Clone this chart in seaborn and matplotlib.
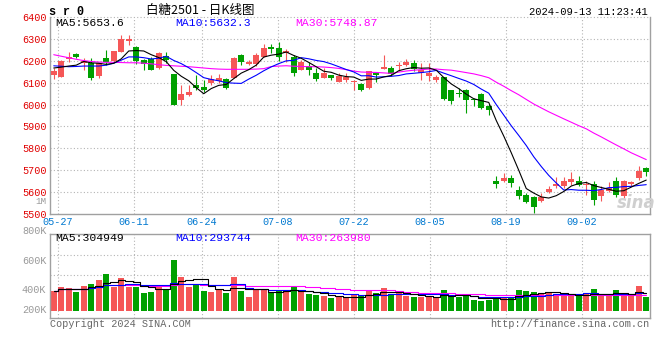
import numpy as np
import pandas as pd
import seaborn as sns
import matplotlib.pyplot as plt
from matplotlib.transforms import blended_transform_factory

# -------------------------------
# Data
# -------------------------------

dates = ["05-24", "05-27", "05-28", "05-29", "05-30", "05-31",
         "06-03", "06-04", "06-05", "06-06", "06-07",
         "06-11", "06-12", "06-13", "06-14",
         "06-17", "06-18", "06-19", "06-20", "06-21",
         "06-24", "06-25", "06-26", "06-27", "06-28",
         "07-01", "07-02", "07-03", "07-04", "07-05",
         "07-08", "07-09", "07-10", "07-11", "07-12",
         "07-15", "07-16", "07-17", "07-18", "07-19",
         "07-22", "07-23", "07-24", "07-25", "07-26",
         "07-29", "07-30", "07-31", "08-01", "08-02",
         "08-05", "08-06", "08-07", "08-08", "08-09",
         "08-12", "08-13", "08-14", "08-15", "08-16",
         "08-19", "08-20", "08-21", "08-22", "08-23",
         "08-26", "08-27", "08-28", "08-29", "08-30",
         "09-02", "09-03", "09-04", "09-05", "09-06",
         "09-09", "09-10", "09-11", "09-12", "09-13"]

opens = [6136, 6129, 6208, 6230, 6190, 6192, 6130, 6215, 6200, 6243,
         6291, 6265, 6205, 6210, 6167, 6225, 6139, 6023, 6045, 6090,
         6083, 6100, 6110, 6118, 6124, 6227, 6186, 6185, 6218, 6262,
         6261, 6236, 6217, 6160, 6177, 6144, 6124, 6136, 6106, 6111,
         6105, 6094, 6077, 6145, 6165, 6167, 6176, 6182, 6192, 6146,
         6131, 6115, 6125, 6066, 6052, 6069, 6024, 6048, 5994, 5651,
         5652, 5663, 5609, 5586, 5578, 5560, 5599, 5625, 5629, 5644,
         5652, 5630, 5637, 5583, 5606, 5650, 5580, 5637, 5663, 5710]

highs = [6167, 6205, 6242, 6236, 6215, 6215, 6192, 6250, 6247, 6318,
         6318, 6268, 6208, 6220, 6240, 6242, 6140, 6091, 6088, 6136,
         6114, 6135, 6140, 6120, 6220, 6232, 6203, 6235, 6277, 6280,
         6285, 6255, 6227, 6204, 6197, 6167, 6166, 6137, 6145, 6144,
         6115, 6100, 6153, 6150, 6227, 6175, 6197, 6208, 6205, 6190,
         6190, 6135, 6126, 6068, 6078, 6074, 6032, 6054, 6005, 5674,
         5686, 5676, 5625, 5597, 5582, 5594, 5625, 5666, 5668, 5692,
         5674, 5648, 5652, 5625, 5645, 5666, 5656, 5652, 5720, 5712]

lows = [6118, 6125, 6194, 6215, 6160, 6113, 6121, 6182, 6197, 6240,
        6273, 6185, 6160, 6158, 6165, 6190, 5998, 6000, 6040, 6068,
        6060, 6092, 6100, 6074, 6120, 6180, 6180, 6176, 6217, 6235,
        6200, 6197, 6130, 6158, 6136, 6108, 6120, 6114, 6103, 6106,
        6068, 6061, 6073, 6103, 6163, 6130, 6156, 6177, 6155, 6112,
        6108, 6105, 6020, 6005, 6035, 5962, 5992, 5982, 5951, 5617,
        5645, 5621, 5566, 5548, 5502, 5555, 5594, 5617, 5617, 5632,
        5628, 5586, 5540, 5560, 5600, 5575, 5572, 5625, 5655, 5672]

closes = [6152, 6200, 6220, 6220, 6198, 6120, 6190, 6195, 6245, 6300,
          6300, 6200, 6185, 6160, 6235, 6206, 6000, 6050, 6056, 6077,
          6068, 6118, 6123, 6076, 6212, 6194, 6197, 6227, 6261, 6255,
          6218, 6246, 6147, 6197, 6160, 6118, 6144, 6122, 6133, 6126,
          6107, 6068, 6152, 6134, 6174, 6140, 6178, 6197, 6162, 6158,
          6146, 6128, 6028, 6015, 6050, 6020, 6022, 5985, 5974, 5636,
          5663, 5640, 5583, 5555, 5532, 5575, 5614, 5637, 5651, 5657,
          5633, 5638, 5565, 5608, 5616, 5588, 5650, 5647, 5694, 5692]

volumes = [330000, 403000, 375000, 319000, 420000, 454000, 521000, 622000, 403000, 554000,
           398000, 392000, 302000, 319000, 403000, 370000, 857000, 571000, 403000, 454000,
           336000, 319000, 347000, 302000, 571000, 336000, 230000, 347000, 347000, 291000,
           336000, 347000, 403000, 319000, 280000, 263000, 252000, 218000, 235000, 224000,
           258000, 246000, 347000, 297000, 381000, 280000, 302000, 246000, 235000, 224000,
           246000, 230000, 347000, 224000, 235000, 280000, 179000, 168000, 179000, 224000,
           224000, 224000, 347000, 330000, 319000, 297000, 319000, 280000, 246000, 246000,
           246000, 280000, 364000, 280000, 246000, 347000, 246000, 280000, 414000, 224000]

# MA values on the left edge, where the window reaches back before the first candle
ma5_head = [6168, 6172, 6177, 6181]
ma10_head = [6178, 6176, 6174, 6175, 6177, 6177, 6177, 6181, 6190]
ma30_head = [6229, 6222, 6215, 6208, 6202, 6198, 6195, 6194, 6194, 6193,
             6192, 6192, 6190, 6187, 6183, 6180, 6178, 6176, 6174, 6171,
             6168, 6165, 6163, 6162, 6162, 6162, 6162, 6163, 6165]

tick_dates = ["05-27", "06-11", "06-24", "07-08", "07-22", "08-05", "08-19", "09-02"]
price_ticks = [5500, 5600, 5700, 5800, 5900, 6000, 6100, 6200, 6300, 6400]
vol_labels = ["800K", "600K", "400K", "200K"]

# -------------------------------
# Prepare frame
# -------------------------------

df = pd.DataFrame({"date": dates, "open": opens, "high": highs, "low": lows,
                   "close": closes, "volume": volumes})
df["x"] = np.arange(len(df))
df["up"] = df["close"] >= df["open"]


def moving(values, n, head):
    ma = values.rolling(n).mean()
    ma.iloc[:n - 1] = head
    return ma


df["ma5"] = moving(df["close"], 5, ma5_head)
df["ma10"] = moving(df["close"], 10, ma10_head)
df["ma30"] = moving(df["close"], 30, ma30_head)
df["vma5"] = df["volume"].rolling(5, min_periods=1).mean()
df["vma10"] = df["volume"].rolling(10, min_periods=1).mean()
df["vma30"] = df["volume"].rolling(30, min_periods=1).mean()

RED = "#f55757"
GREEN = "#00a000"
GRID = "#b4b4b4"
FRAME = "#a0a0a0"
colors = np.where(df["up"], RED, GREEN)

# grid lines on sina sit on a slightly wider spacing than the candles
n = len(df)
tick_idx = [dates.index(d) for d in tick_dates]
grid_x = [i * n / (n - 1) - 0.5 for i in tick_idx]

# -------------------------------
# Plot
# -------------------------------

sns.set_theme(style="white")
plt.rcParams["font.family"] = ["Liberation Mono", "DejaVu Sans Mono"]

W, H = 660, 360


def px(x, y):
    return x / W, 1 - y / H


fig = plt.figure(figsize=(6.6, 3.6), dpi=100)
ax = fig.add_axes([50 / W, 1 - 213.7 / H, 600 / W, (213.7 - 17.4) / H])
axv = fig.add_axes([50 / W, 1 - 318 / H, 600 / W, (318 - 234.3) / H])

dots = (0, (1, 2))

# price pane
for y in price_ticks[1:]:
    ax.axhline(y, color=GRID, lw=0.8, ls=dots, zorder=1, clip_on=False)
for gx in grid_x:
    ax.axvline(gx, color=GRID, lw=0.8, ls=dots, zorder=1)

body_low = df[["open", "close"]].min(axis=1)
body_h = (df["close"] - df["open"]).abs().clip(lower=4)
ax.vlines(df["x"], df["low"], df["high"], colors=colors, lw=0.8, zorder=2)
ax.bar(df["x"], body_h, bottom=body_low, width=0.8, color=colors, linewidth=0, zorder=3)

sns.lineplot(data=df, x="x", y="ma30", color="#ff00ff", lw=0.8, ax=ax, zorder=4)
sns.lineplot(data=df, x="x", y="ma10", color="#0000ff", lw=0.8, ax=ax, zorder=4)
sns.lineplot(data=df, x="x", y="ma5", color="black", lw=0.8, ax=ax, zorder=4)

ax.set_xlim(-0.5, n - 0.5)
ax.set_ylim(5500, 6400)
ax.set_xlabel("")
ax.set_ylabel("")
ax.set_yticks(price_ticks)
ax.set_yticklabels([str(p) for p in price_ticks], color="#e00000", fontsize=7.3)
ax.set_xticks(grid_x)
ax.set_xticklabels(tick_dates, color="#0078d0", fontsize=7.3)
ax.tick_params(axis="y", length=0, pad=2.4)
ax.tick_params(axis="x", length=0, pad=2.4)
for side in ["left", "right", "bottom"]:
    ax.spines[side].set_color(FRAME)
    ax.spines[side].set_linewidth(1.0)
ax.spines["top"].set_visible(False)

# volume pane
axv.axhline(600000, color=GRID, lw=0.8, ls=dots, zorder=1)
axv.axhline(936000, color=GRID, lw=0.8, ls=dots, zorder=1)
for gx in grid_x:
    axv.axvline(gx, color=GRID, lw=0.8, ls=dots, zorder=1)

axv.bar(df["x"], df["volume"], width=0.78, color=colors, linewidth=0, zorder=2)
sns.lineplot(data=df, x="x", y="vma30", color="#ff00ff", lw=0.8, ax=axv,
             drawstyle="steps-mid", zorder=3)
sns.lineplot(data=df, x="x", y="vma10", color="#0000ff", lw=0.8, ax=axv,
             drawstyle="steps-mid", zorder=3)
sns.lineplot(data=df, x="x", y="vma5", color="black", lw=0.8, ax=axv,
             drawstyle="steps-mid", zorder=3)

axv.set_xlim(-0.5, n - 0.5)
axv.set_ylim(-122600, 1283500)
axv.set_xticks([])
axv.set_yticks([])
axv.set_xlabel("")
axv.set_ylabel("")
for side in axv.spines:
    axv.spines[side].set_color(FRAME)
    axv.spines[side].set_linewidth(1.0)

tr = blended_transform_factory(axv.transAxes, axv.transAxes)
for lab, yfrac in zip(vol_labels, [1.043, 0.685, 0.335, 0.092]):
    axv.text(-0.006, yfrac, lab, transform=tr, ha="right", va="center",
             color="#999999", fontsize=7.3)

# -------------------------------
# Texts
# -------------------------------

fig.text(*px(49, 12), "s r 0", ha="left", va="center", fontsize=8.5,
         fontweight="bold", color="black")
fig.text(*px(200, 10), "白糖2501 - 日K线图", ha="center", va="center", fontsize=9,
         family=["Noto Sans CJK SC", "DejaVu Sans"], color="black")
fig.text(*px(648, 12), "2024-09-13 11:23:41", ha="right", va="center",
         fontsize=7.6, color="black")

fig.text(*px(55, 23), "MA5:5653.6", ha="left", va="center", fontsize=8.2, color="black")
fig.text(*px(175, 23), "MA10:5632.3", ha="left", va="center", fontsize=8.2, color="#0000ff")
fig.text(*px(295, 23), "MA30:5748.87", ha="left", va="center", fontsize=8.2, color="#ff00ff")

fig.text(*px(55, 238), "MA5:304949", ha="left", va="center", fontsize=8.2, color="black")
fig.text(*px(175, 238), "MA10:293744", ha="left", va="center", fontsize=8.2, color="#0000ff")
fig.text(*px(295, 238), "MA30:263980", ha="left", va="center", fontsize=8.2, color="#ff00ff")

fig.text(*px(46.5, 202), "1M", ha="right", va="center", fontsize=6.6, color="#999999")

fig.text(*px(50, 324), "Copyright 2024 SINA.COM", ha="left", va="center",
         fontsize=7.3, color="#666666")
fig.text(*px(649, 324), "http://finance.sina.com.cn", ha="right", va="center",
         fontsize=7.3, color="#666666")

fig.text(*px(636, 203), "sina", ha="center", va="center", fontsize=12,
         style="italic", fontweight="bold", color="#cfcfcf",
         family=["DejaVu Sans"], zorder=0)

fig.savefig("out.png", dpi=100)
